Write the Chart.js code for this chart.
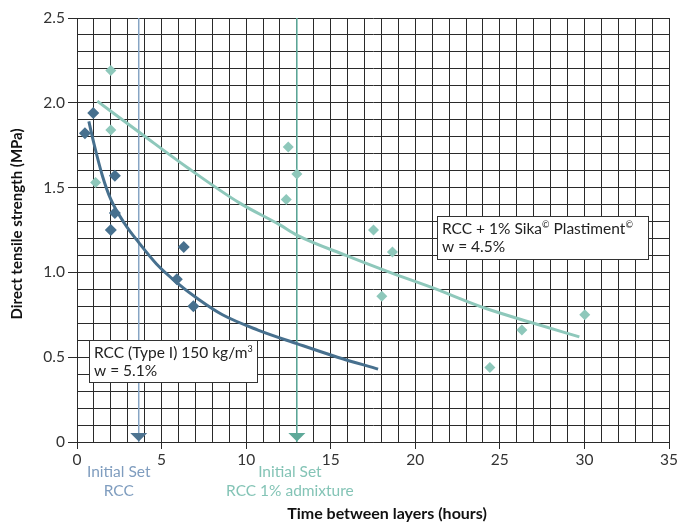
<!DOCTYPE html>
<html>
<head>
<meta charset="utf-8">
<script src="https://cdn.jsdelivr.net/npm/chart.js@4.4.1/dist/chart.umd.min.js"></script>
<style>
  html, body { margin: 0; padding: 0; background: #fff; }
  #wrap { width: 680px; height: 525px; }
</style>
</head>
<body>
<div id="wrap"><canvas id="chart" width="680" height="525"></canvas></div>
<script>
// measured points, RCC (Type I)
const rccHours    = [0.47, 0.96, 2.24, 2.24, 2.0, 6.31, 5.9, 6.88];
const rccStrength = [1.82, 1.94, 1.57, 1.35, 1.25, 1.15, 0.96, 0.80];

// measured points, RCC + 1% Sika Plastiment
const sikaHours    = [1.1, 2.0, 2.0, 12.37, 12.49, 13.0, 17.53, 18.65, 18.02, 24.41, 26.3, 30.02];
const sikaStrength = [1.53, 2.19, 1.84, 1.43, 1.74, 1.58, 1.25, 1.12, 0.86, 0.44, 0.66, 0.75];

// trend curves
const rccFitHours    = [0.7, 1.0, 1.5, 2.0, 2.8, 3.7, 4.7, 5.9, 7.2, 8.6, 10.7, 13.0, 15.4, 17.8];
const rccFitStrength = [1.89, 1.76, 1.57, 1.43, 1.29, 1.17, 1.05, 0.94, 0.84, 0.75, 0.66, 0.58, 0.50, 0.43];
const sikaFitHours    = [1.2, 3.9, 6.5, 9.6, 12.0, 13.0, 15.9, 18.5, 21.0, 24.1, 27.0, 29.7];
const sikaFitStrength = [2.01, 1.81, 1.62, 1.41, 1.28, 1.22, 1.10, 1.00, 0.91, 0.79, 0.70, 0.62];

// initial set times (hours)
const initialSetHours  = [3.65, 13.0];
const initialSetLabels = [['Initial Set', 'RCC'], ['Initial Set', 'RCC 1% admixture']];

const xTitle = 'Time between layers (hours)';
const yTitle = 'Direct tensile strength (MPa)';

const DARK = '#47708e';
const TEAL = '#8ec8bb';
const SET_LINE = ['#86a4c4', '#66b6a6'];
const SET_MARK = ['#4e7491', '#5ea999'];
const SET_TEXT = ['#7f9dbf', '#84c4b6'];
const GRID = '#2a2a2a';
const FONT = 'Lato, sans-serif';

const pts = (xs, ys) => xs.map((x, i) => ({ x: x, y: ys[i] }));
const isHalf = v => Math.abs(v * 2 - Math.round(v * 2)) < 1e-6;
const isFive = v => Math.abs(v / 5 - Math.round(v / 5)) < 1e-6;

// text runs with superscripts
const drawRuns = (ctx, runs, x, y, size) => {
    runs.forEach(r => {
        if (r.sup) {
            ctx.font = `${Math.round(size * 0.6)}px ${FONT}`;
            ctx.fillText(r.t, x, y - size * 0.4);
        } else {
            ctx.font = `${size}px ${FONT}`;
            ctx.fillText(r.t, x, y);
        }
        x += ctx.measureText(r.t).width;
    });
};

const boxes = [
    { x: 0.7, y: 0.6, w: 168, h: 42, lines: [[{ t: 'RCC (Type I) 150 kg/m' }, { t: '3', sup: true }], [{ t: 'w = 5.1%' }]] },
    { x: 21.3, y: 1.33, w: 211, h: 43, lines: [[{ t: 'RCC + 1% Sika' }, { t: '©', sup: true }, { t: ' Plastiment' }, { t: '©', sup: true }], [{ t: 'w = 4.5%' }]] }
];

const overlay = {
    id: 'overlay',
    beforeDatasetsDraw(chart) {
        const { ctx, scales: { x, y } } = chart;
        // initial set lines
        initialSetHours.forEach((h, i) => {
            const px = x.getPixelForValue(h);
            ctx.save();
            ctx.strokeStyle = SET_LINE[i];
            ctx.lineWidth = 1.5;
            ctx.beginPath();
            ctx.moveTo(px, y.getPixelForValue(2.5));
            ctx.lineTo(px, y.getPixelForValue(0));
            ctx.stroke();
            ctx.restore();
        });
    },
    afterDatasetsDraw(chart) {
        const { ctx, scales: { x, y } } = chart;
        ctx.save();
        // arrow heads
        initialSetHours.forEach((h, i) => {
            const px = x.getPixelForValue(h);
            const py = y.getPixelForValue(0);
            ctx.fillStyle = SET_MARK[i];
            ctx.beginPath();
            ctx.moveTo(px - 8.5, py - 9);
            ctx.lineTo(px + 8.5, py - 9);
            ctx.lineTo(px, py - 0.5);
            ctx.closePath();
            ctx.fill();
            // labels under axis
            ctx.fillStyle = SET_TEXT[i];
            ctx.font = `15.5px ${FONT}`;
            ctx.textAlign = 'center';
            ctx.textBaseline = 'middle';
            const cx = px + (i === 0 ? -20 : -7);
            initialSetLabels[i].forEach((t, k) => ctx.fillText(t, cx, 472 + k * 19));
        });
        // text boxes
        const size = 15.5;
        boxes.forEach(b => {
            const bx = Math.round(x.getPixelForValue(b.x));
            const by = Math.round(y.getPixelForValue(b.y));
            ctx.fillStyle = '#fff';
            ctx.fillRect(bx, by, b.w, b.h);
            ctx.strokeStyle = '#333';
            ctx.lineWidth = 1;
            ctx.strokeRect(bx + 0.5, by + 0.5, b.w, b.h);
            ctx.fillStyle = '#222';
            ctx.textAlign = 'left';
            ctx.textBaseline = 'alphabetic';
            b.lines.forEach((l, k) => drawRuns(ctx, l, bx + 5, by + 18 + k * 18, size));
        });
        ctx.restore();
    },
    afterDraw(chart) {
        const { ctx } = chart;
        ctx.save();
        ctx.fillStyle = '#111';
        ctx.textAlign = 'center';
        ctx.textBaseline = 'middle';
        ctx.font = `bold 16px ${FONT}`;
        ctx.fillText(xTitle, 387, 514);
        ctx.font = `bold 15px ${FONT}`;
        ctx.translate(17, 224);
        ctx.rotate(-Math.PI / 2);
        ctx.fillText(yTitle, 0, 0);
        ctx.restore();
    }
};

new Chart(document.getElementById('chart'), {
    type: 'scatter',
    data: {
        datasets: [
            { data: pts(rccFitHours, rccFitStrength), showLine: true, borderColor: DARK, borderWidth: 3, pointRadius: 0, cubicInterpolationMode: 'monotone' },
            { data: pts(sikaFitHours, sikaFitStrength), showLine: true, borderColor: TEAL, borderWidth: 3, pointRadius: 0, cubicInterpolationMode: 'monotone' },
            { data: pts(rccHours, rccStrength), pointStyle: 'rectRot', pointRadius: 6, backgroundColor: DARK, borderWidth: 0 },
            { data: pts(sikaHours, sikaStrength), pointStyle: 'rectRot', pointRadius: 5.5, backgroundColor: TEAL, borderWidth: 0 }
        ]
    },
    options: {
        responsive: false,
        animation: false,
        layout: { padding: { top: 18, right: 8, left: 0, bottom: 0 } },
        plugins: { legend: { display: false }, tooltip: { enabled: false } },
        scales: {
            x: {
                type: 'linear', min: 0, max: 35,
                ticks: {
                    stepSize: 1, autoSkip: false, maxRotation: 0, maxTicksLimit: 100,
                    callback: v => isFive(v) ? String(Math.round(v)) : '',
                    color: '#333', font: { family: FONT, size: 15.5 }, padding: 2
                },
                grid: { color: GRID, lineWidth: 1, tickLength: 7, tickColor: c => isFive(c.tick.value) ? GRID : 'rgba(0,0,0,0)' },
                border: { color: GRID, width: 1 },
                afterFit: s => { s.height = 83; }
            },
            y: {
                min: 0, max: 2.5,
                ticks: {
                    stepSize: 0.1, autoSkip: false, maxTicksLimit: 100,
                    callback: v => isHalf(v) ? (Math.abs(v) < 1e-6 ? '0' : v.toFixed(1)) : '',
                    color: '#333', font: { family: FONT, size: 15.5 }, padding: 3
                },
                grid: { color: GRID, lineWidth: 1, tickLength: 9, tickColor: c => isHalf(c.tick.value) ? GRID : 'rgba(0,0,0,0)' },
                border: { color: GRID, width: 1 },
                afterFit: s => { s.width = 77; }
            }
        }
    },
    plugins: [overlay]
});
</script>
</body>
</html>
